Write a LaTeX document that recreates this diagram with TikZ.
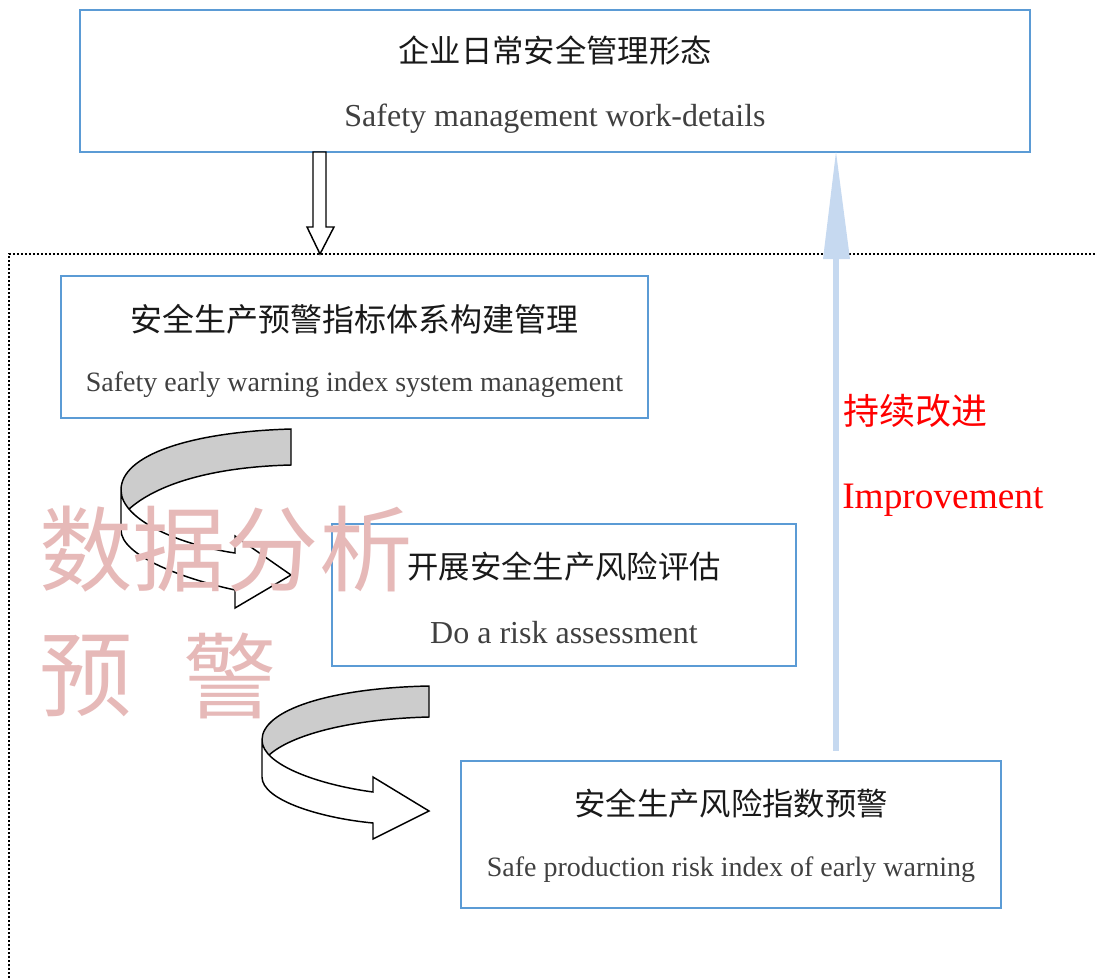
\documentclass[tikz,border=0pt]{standalone}
\usepackage{fontspec}
\setmainfont{Liberation Serif}
\newfontfamily\cjk{Noto Sans CJK SC}
\usetikzlibrary{fit}
\definecolor{boxblue}{RGB}{91,155,213}
\definecolor{arrowblue}{RGB}{198,217,240}
\definecolor{wmpink}{RGB}{230,185,184}
\definecolor{txtgray}{RGB}{64,64,64}
\definecolor{ribbongray}{RGB}{204,204,204}
\begin{document}
\begin{tikzpicture}[x=0.75pt,y=-0.75pt,
  box/.style={draw=boxblue, line width=1.5pt, inner sep=0pt},
  zh/.style={font=\cjk\fontsize{23.5}{28}\selectfont, text=black!90, inner sep=0pt},
  enbig/.style={font=\fontsize{24}{28}\selectfont, text=txtgray, inner sep=0pt},
  ensmall/.style={font=\fontsize{21}{25}\selectfont, text=txtgray, inner sep=0pt},
  redzh/.style={font=\cjk\fontsize{27}{32}\selectfont, text=red, inner sep=0pt, anchor=west},
  reden/.style={font=\fontsize{28}{32}\selectfont, text=red, inner sep=0pt, anchor=west},
  wmark/.style={font=\cjk\fontsize{70}{80}\selectfont, text=wmpink, inner sep=0pt, anchor=west},
  framedots/.style={line width=1.6pt, dash pattern=on 1.6pt off 1.4pt},
  outline/.style={draw=black, line width=1.1pt, line join=miter},
  ribbon/.style={fill=ribbongray}
]
\useasboundingbox (0,0) rectangle (1097,978);

% dotted frame
\coordinate (frBL) at (9,978);
\coordinate (frTL) at (9,254);
\coordinate (frTR) at (1097,254);
\draw[framedots] (frBL) -- (frTL) -- (frTR);

% boxes
\node[box, fit={(80,10) (1030,152)}] (b1) {};
\node[box, fit={(61,276) (648,418)}] (b2) {};
\node[box, fit={(332,524) (796,666)}] (b3) {};
\node[box, fit={(461,761) (1001,908)}] (b4) {};

% hollow down arrow from box 1 to frame
\draw[outline, fill=white] (313,152) -- (313,227) -- (307,227) -- (320,254) -- (334,227) -- (326,227) -- (326,152) -- cycle;

% blue improvement arrow
\fill[arrowblue] (833,751) rectangle (839,258);
\fill[arrowblue] (823,259) -- (850,259) -- (836,152) -- cycle;

% curved arrow 1
\fill[ribbon] (291,429) .. controls (190,432) and (121,455) .. (121,490) -- (121,505) -- (128,510) .. controls (155,485) and (210,467) .. (291,465) -- cycle;
\draw[outline] (128,510) .. controls (155,485) and (210,467) .. (291,465) -- (291,429) .. controls (190,432) and (121,455) .. (121,490);
\draw[outline, fill=white] (121,490) .. controls (121,520) and (180,545) .. (235,553) -- (235,536) -- (291,575) -- (235,608) -- (235,590) .. controls (180,578) and (121,555) .. (121,530) -- cycle;

% curved arrow 2
\fill[ribbon] (429,686) .. controls (330,688) and (262,710) .. (262,740) -- (262,750) -- (268,756) .. controls (290,735) and (350,719) .. (429,717) -- cycle;
\draw[outline] (268,756) .. controls (290,735) and (350,719) .. (429,717) -- (429,686) .. controls (330,688) and (262,710) .. (262,740);
\draw[outline, fill=white] (262,740) .. controls (262,765) and (320,785) .. (373,792) -- (373,777) -- (429,811) -- (373,839) -- (373,823) .. controls (320,818) and (262,800) .. (262,777) -- cycle;

% texts
\node[zh] (t1zh) at (555,51) {企业日常安全管理形态};
\node[enbig] (t1en) at (555,119) {Safety management work-details};
\node[zh, font=\cjk\fontsize{24}{28}\selectfont] (t2zh) at (354.5,319) {安全生产预警指标体系构建管理};
\node[ensmall] (t2en) at (354.5,385) {Safety early warning index system management};
\node[zh] (t3zh) at (564,567) {开展安全生产风险评估};
\node[enbig] (t3en) at (564,633) {Do a risk assessment};
\node[zh] (t4zh) at (731,804) {安全生产风险指数预警};
\node[ensmall] (t4en) at (731,870) {Safe production risk index of early warning};

\node[redzh] (r1) at (843,411) {持续改进};
\node[reden] (r2) at (842,500) {Improvement};

% watermark
\node[wmark] (wm1) at (39,549) {数据分析};
\node[wmark] (wm2) at (39,676) {预};
\node[wmark] (wm3) at (183,676) {警};
\end{tikzpicture}
\end{document}
